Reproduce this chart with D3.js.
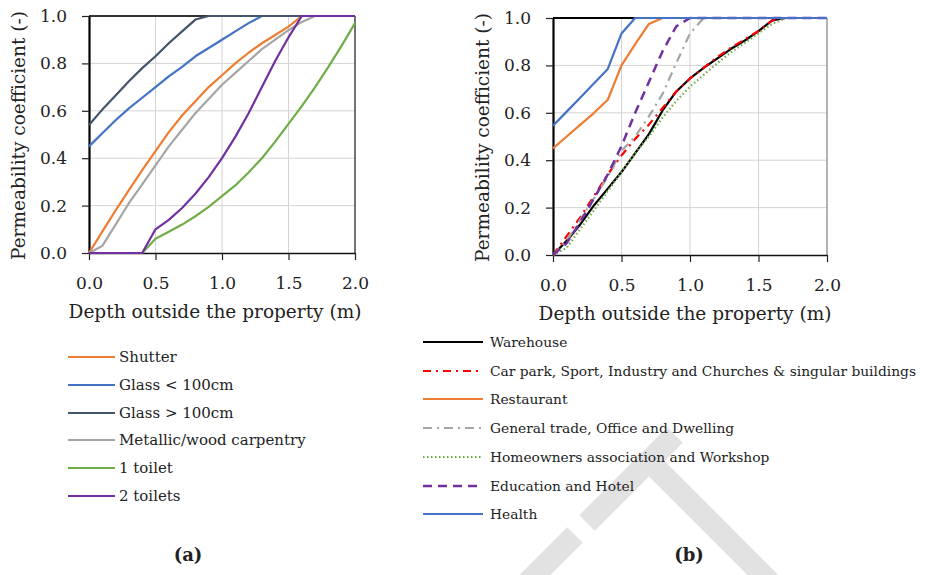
<!DOCTYPE html>
<html>
<head>
<meta charset="utf-8">
<script src="https://cdn.jsdelivr.net/npm/d3@7"></script>
<style>
  html, body { margin: 0; padding: 0; background: #fff; }
  svg { display: block; }
  text { font-family: "DejaVu Serif", "Liberation Serif", serif; fill: #222; }
</style>
</head>
<body>
<svg id="chart" width="940" height="575"></svg>
<script>
// ---------- DATA ----------
const xTicks = [0, 0.5, 1.0, 1.5, 2.0];
const yTicks = [0, 0.2, 0.4, 0.6, 0.8, 1.0];
const depth = [0,0.1,0.2,0.3,0.4,0.5,0.6,0.7,0.8,0.9,1.0,1.1,1.2,1.3,1.4,1.5,1.6,1.7,1.8,1.9,2.0];

// Panel (a)
const namesA = ["Shutter", "Glass < 100cm", "Glass > 100cm", "Metallic/wood carpentry", "1 toilet", "2 toilets"];
const shutter   = [0,0.09,0.18,0.265,0.35,0.43,0.51,0.58,0.64,0.70,0.75,0.80,0.845,0.885,0.92,0.955,1,1,1,1,1];
const glassLow  = [0.45,0.505,0.56,0.61,0.655,0.70,0.745,0.785,0.83,0.865,0.90,0.935,0.97,1,1,1,1,1,1,1,1];
const glassHigh = [0.54,0.605,0.665,0.725,0.78,0.83,0.885,0.935,0.985,1,1,1,1,1,1,1,1,1,1,1,1];
const metallic  = [0,0.03,0.12,0.21,0.29,0.37,0.45,0.52,0.59,0.65,0.71,0.76,0.81,0.86,0.90,0.94,0.975,1,1,1,1];
const toilet1   = [0,0,0,0,0,0.06,0.09,0.12,0.155,0.195,0.24,0.285,0.34,0.40,0.47,0.545,0.62,0.70,0.785,0.875,0.97];
const toilet2   = [0,0,0,0,0,0.10,0.14,0.19,0.25,0.32,0.40,0.49,0.59,0.70,0.81,0.91,1,1,1,1,1];

// Panel (b)
const namesB = ["Warehouse", "Car park, Sport, Industry and Churches & singular buildings", "Restaurant",
  "General trade, Office and Dwelling", "Homeowners association and Workshop", "Education and Hotel", "Health"];
const warehouse  = [0,0.06,0.13,0.21,0.28,0.35,0.43,0.51,0.61,0.69,0.745,0.79,0.83,0.87,0.905,0.945,0.99,1,1,1,1];
const carPark    = [0,0.08,0.16,0.25,0.34,0.42,0.49,0.55,0.62,0.69,0.745,0.79,0.835,0.875,0.91,0.945,0.99,1,1,1,1];
const restaurant = [0.45,0.50,0.55,0.60,0.655,0.80,0.89,0.975,1,1,1,1,1,1,1,1,1,1,1,1,1];
const generalTr  = [0,0.06,0.15,0.24,0.33,0.44,0.50,0.585,0.68,0.81,0.935,1,1,1,1,1,1,1,1,1,1];
const homeowners = [0,0.03,0.11,0.19,0.27,0.35,0.43,0.50,0.58,0.65,0.71,0.76,0.81,0.855,0.895,0.935,0.975,1,1,1,1];
const education  = [0,0.05,0.14,0.24,0.34,0.46,0.60,0.73,0.86,0.965,1,1,1,1,1,1,1,1,1,1,1];
const health     = [0.545,0.605,0.665,0.725,0.785,0.935,1,1,1,1,1,1,1,1,1,1,1,1,1,1,1];

const xTitle = "Depth outside the property (m)";
const yTitle = "Permeability coefficient (-)";

// ---------- DRAW ----------
const svg = d3.select("#chart");
svg.append("rect").attr("width", 940).attr("height", 575).attr("fill", "#fff");

// watermark (light grey strokes behind everything)
const wm = svg.append("g").attr("stroke", "#e2e2e2").attr("stroke-width", 22).attr("fill", "none");
[[[515,595],[575,535]], [[587,523],[675,435]], [[650,462],[770,582]]].forEach(seg => {
  wm.append("line").attr("x1", seg[0][0]).attr("y1", seg[0][1]).attr("x2", seg[1][0]).attr("y2", seg[1][1]);
});

function panel(cfg) {
  const x = d3.scaleLinear().domain([0, 2]).range([cfg.x0, cfg.x1]);
  const y = d3.scaleLinear().domain([0, 1]).range([cfg.y0, cfg.y1]);
  const g = svg.append("g");

  // gridlines
  g.selectAll(".hg").data(yTicks.filter(v => v > 0 && v < 1)).join("line")
    .attr("x1", cfg.x0).attr("x2", cfg.x1).attr("y1", d => y(d)).attr("y2", d => y(d))
    .attr("stroke", "#d4d4d4").attr("stroke-width", 1);
  g.selectAll(".vg").data(xTicks.filter(v => v > 0 && v < 2)).join("line")
    .attr("y1", cfg.y0).attr("y2", cfg.y1).attr("x1", d => x(d)).attr("x2", d => x(d))
    .attr("stroke", "#d4d4d4").attr("stroke-width", 1);
  // right border
  g.append("line").attr("x1", x(2)).attr("x2", x(2)).attr("y1", y(0)).attr("y2", y(1))
    .attr("stroke", cfg.rightColor).attr("stroke-width", 1.5);
  // top border
  g.append("line").attr("x1", x(0)).attr("x2", x(2)).attr("y1", y(1)).attr("y2", y(1))
    .attr("stroke", cfg.topColor).attr("stroke-width", 2);

  // axes
  const ax = g.append("g").attr("transform", `translate(0,${cfg.y0})`)
    .call(d3.axisBottom(x).tickValues(xTicks).tickFormat(d3.format(".1f")).tickSize(7).tickSizeOuter(0).tickPadding(17));
  const ay = g.append("g").attr("transform", `translate(${cfg.x0},0)`)
    .call(d3.axisLeft(y).tickValues(yTicks).tickFormat(d3.format(".1f")).tickSize(7).tickSizeOuter(0).tickPadding(15));
  [ax, ay].forEach(a => {
    a.selectAll("text").attr("font-size", 17).attr("font-family", "DejaVu Serif").attr("fill", "#222");
    a.selectAll("line").attr("stroke", "#222").attr("stroke-width", 1.2);
  });
  ax.select(".domain").attr("stroke", "#111").attr("stroke-width", 1.6);
  ay.select(".domain").attr("stroke", "#000").attr("stroke-width", 2.2);

  // titles
  g.append("text").attr("x", cfg.xTitleX).attr("y", cfg.xTitleY).attr("text-anchor", "middle")
    .attr("font-size", 18.5).text(xTitle);
  g.append("text").attr("transform", `translate(${cfg.yTitleX},${(cfg.y0 + cfg.y1) / 2 + 1}) rotate(-90)`)
    .attr("text-anchor", "middle").attr("font-size", 18.5).text(yTitle);

  // series
  const line = d3.line().x((d, i) => x(depth[i])).y(d => y(d));
  cfg.series.forEach(s => {
    g.append("path").datum(s.values).attr("d", line).attr("fill", "none")
      .attr("stroke", s.color).attr("stroke-width", s.width || 2.2)
      .attr("stroke-dasharray", s.dash || null)
      .attr("stroke-linecap", s.cap || "butt").attr("stroke-linejoin", "round");
  });

  // legend
  const lg = svg.append("g");
  cfg.series.forEach((s, i) => {
    const ly = cfg.legY[i];
    lg.append("line").attr("x1", cfg.legX0).attr("x2", cfg.legX1).attr("y1", ly).attr("y2", ly)
      .attr("stroke", s.color).attr("stroke-width", s.width || 2.2)
      .attr("stroke-dasharray", s.dash || null).attr("stroke-linecap", s.cap || "butt");
    lg.append("text").attr("x", cfg.legTextX).attr("y", ly).attr("dy", "0.35em")
      .attr("font-size", cfg.legFont).text(s.name);
  });

  // panel letter
  svg.append("text").attr("x", cfg.letterX).attr("y", 561).attr("text-anchor", "middle")
    .attr("font-size", 18).attr("font-weight", "bold").text(cfg.letter);
}

panel({
  x0: 89, x1: 355, y0: 253, y1: 16,
  rightColor: "#444", topColor: "#333",
  xTitleX: 215, xTitleY: 318, yTitleX: 25,
  legX0: 68, legX1: 115, legTextX: 119, legFont: 15,
  legY: [357, 385, 413, 440, 468, 496],
  letter: "(a)", letterX: 188,
  series: [
    { name: namesA[0], values: shutter,   color: "#ED7D31" },
    { name: namesA[1], values: glassLow,  color: "#4472C4" },
    { name: namesA[2], values: glassHigh, color: "#44546A" },
    { name: namesA[3], values: metallic,  color: "#A5A5A5" },
    { name: namesA[4], values: toilet1,   color: "#70AD47" },
    { name: namesA[5], values: toilet2,   color: "#7030A0" }
  ]
});

panel({
  x0: 553, x1: 827, y0: 255, y1: 18,
  rightColor: "#9a9a9a", topColor: "#000",
  xTitleX: 685, xTitleY: 320, yTitleX: 489,
  legX0: 423, legX1: 483, legTextX: 490, legFont: 13.8,
  legY: [342, 371, 399, 428, 457, 486, 514],
  letter: "(b)", letterX: 689,
  series: [
    { name: namesB[0], values: warehouse,  color: "#000000" },
    { name: namesB[1], values: carPark,    color: "#FF0000", dash: "8,5,2,5" },
    { name: namesB[2], values: restaurant, color: "#ED7D31" },
    { name: namesB[3], values: generalTr,  color: "#A5A5A5", dash: "9,5,2,5" },
    { name: namesB[4], values: homeowners, color: "#70AD47", dash: "1.5,2.5", cap: "butt" },
    { name: namesB[5], values: education,  color: "#7030A0", dash: "9,6", width: 2.5 },
    { name: namesB[6], values: health,     color: "#4472C4" }
  ]
});
</script>
</body>
</html>
